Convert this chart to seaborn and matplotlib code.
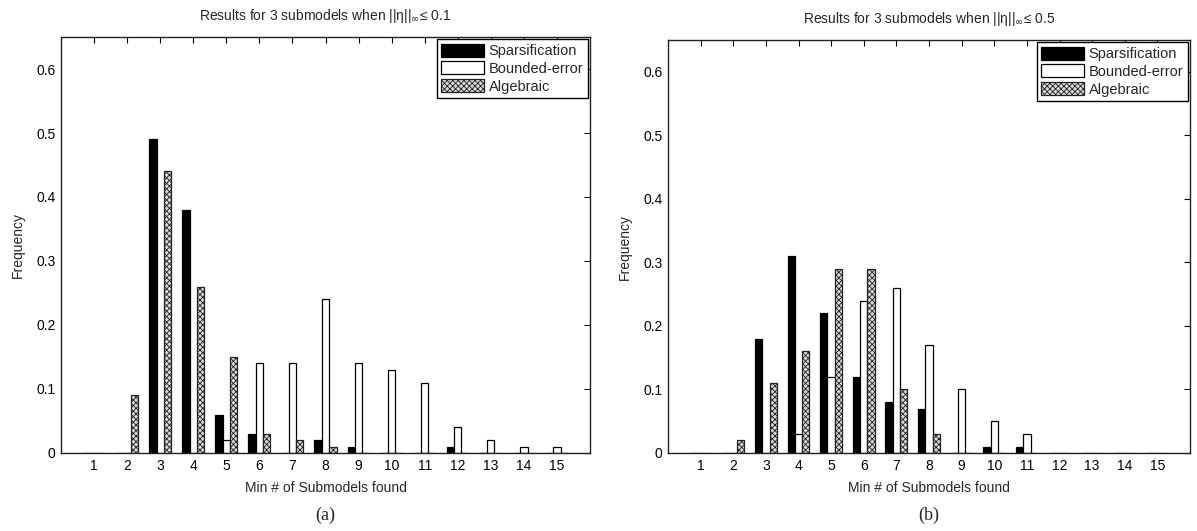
import numpy as np
import pandas as pd
import seaborn as sns
import matplotlib
matplotlib.use("Agg")
import matplotlib.pyplot as plt

# Number of submodels found (x axis categories)
n_submodels = list(range(1, 16))
methods = ["Sparsification", "Bounded-error", "Algebraic"]

# Panel (a): noise bound 0.1
sparsification_a = [0, 0, 0.49, 0.38, 0.06, 0.03, 0, 0.02, 0.01, 0, 0, 0.01, 0, 0, 0]
bounded_error_a = [0, 0, 0, 0, 0.02, 0.14, 0.14, 0.24, 0.14, 0.13, 0.11, 0.04, 0.02, 0.01, 0.01]
algebraic_a = [0, 0.09, 0.44, 0.26, 0.15, 0.03, 0.02, 0.01, 0, 0, 0, 0, 0, 0, 0]

# Panel (b): noise bound 0.5
sparsification_b = [0, 0, 0.18, 0.31, 0.22, 0.12, 0.08, 0.07, 0, 0.01, 0.01, 0, 0, 0, 0]
bounded_error_b = [0, 0, 0, 0.03, 0.12, 0.24, 0.26, 0.17, 0.10, 0.05, 0.03, 0, 0, 0, 0]
algebraic_b = [0, 0.02, 0.11, 0.16, 0.29, 0.29, 0.10, 0.03, 0, 0, 0, 0, 0, 0, 0]

titles = [
    r"Results for 3 submodels when ||η||$_\infty$≤ 0.1",
    r"Results for 3 submodels when ||η||$_\infty$≤ 0.5",
]
panel_tags = ["(a)", "(b)"]
y_ticks = [0, 0.1, 0.2, 0.3, 0.4, 0.5, 0.6]
y_tick_labels = ["0", "0.1", "0.2", "0.3", "0.4", "0.5", "0.6"]


def long_frame(spars, bounded, alg):
    rows = []
    for name, vals in zip(methods, [spars, bounded, alg]):
        for x, v in zip(n_submodels, vals):
            rows.append({"n": x, "freq": v, "method": name})
    return pd.DataFrame(rows)


frames = [
    long_frame(sparsification_a, bounded_error_a, algebraic_a),
    long_frame(sparsification_b, bounded_error_b, algebraic_b),
]

sns.set_theme(style="white")
plt.rcParams["font.family"] = ["Liberation Sans", "DejaVu Sans"]
plt.rcParams["mathtext.fontset"] = "dejavusans"
plt.rcParams["hatch.linewidth"] = 0.6

fig = plt.figure(figsize=(11.97, 5.31), dpi=100)
axes = [
    fig.add_axes([61 / 1197, 78 / 531, (590 - 61) / 1197, (453 - 37) / 531]),
    fig.add_axes([668 / 1197, 78 / 531, (1190 - 668) / 1197, (453 - 40) / 531]),
]

palette = {"Sparsification": "black", "Bounded-error": "white", "Algebraic": "white"}

for ax, df, title, tag in zip(axes, frames, titles, panel_tags):
    sns.barplot(
        data=df, x="n", y="freq", hue="method", hue_order=methods,
        palette=palette, native_scale=True, width=0.667, gap=0,
        edgecolor="black", linewidth=0.9, legend=False, errorbar=None, ax=ax,
    )
    for patch in ax.containers[2]:
        patch.set_hatch("xxxxxx")
        patch.set_facecolor("#d8d8d8")
        patch.set_edgecolor("#222222")

    ax.set_xlim(0, 16)
    ax.set_ylim(0, 0.65)
    ax.set_xticks(n_submodels)
    ax.set_xticklabels([str(v) for v in n_submodels])
    ax.set_yticks(y_ticks)
    ax.set_yticklabels(y_tick_labels)
    ax.tick_params(direction="in", top=True, right=True, length=4, width=0.8,
                   labelsize=10, colors="black", pad=4)
    for s in ax.spines.values():
        s.set_visible(True)
        s.set_color("#222222")
        s.set_linewidth(1.0)
    ax.set_xlabel("Min # of Submodels found", fontsize=10, labelpad=6)
    ax.set_ylabel("Frequency", fontsize=10, labelpad=8)
    ax.set_title(title, fontsize=10, pad=12)
    ax.grid(False)

    leg = ax.legend(
        ax.containers, methods, loc="upper right", fontsize=10.5,
        frameon=True, fancybox=False, framealpha=1, edgecolor="black",
        borderaxespad=0.15, handlelength=2.9, handleheight=1.0,
        handletextpad=0.35, labelspacing=0.22, borderpad=0.3,
    )
    leg.get_frame().set_linewidth(1.0)

    bbox = ax.get_position()
    fig.text((bbox.x0 + bbox.x1) / 2, 16 / 531, tag, ha="center", va="center",
             fontsize=13, family=["Liberation Serif", "DejaVu Serif"])

fig.savefig("out.png", dpi=100, facecolor="white")
